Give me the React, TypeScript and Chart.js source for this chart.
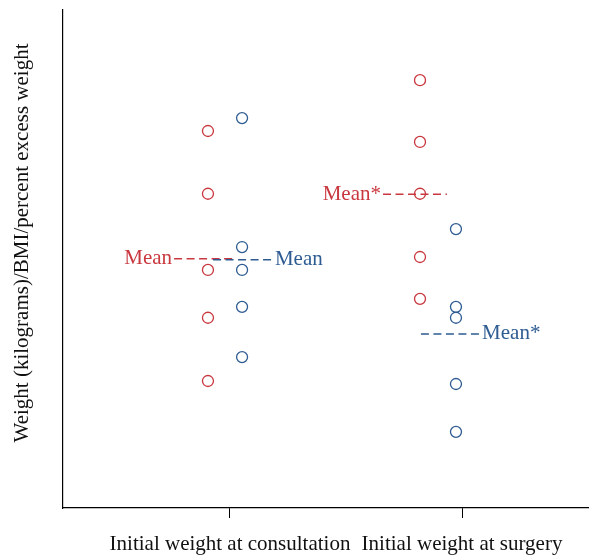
import React, { useEffect, useRef } from "react";
import { Chart, registerables } from "chart.js";

Chart.register(...registerables);

// ---- data (arbitrary units 0..100) ----
const categories = ["Initial weight at consultation", "Initial weight at surgery"];
const consultationRed = [75.7, 63.1, 47.8, 38.2, 25.5];
const consultationBlue = [78.3, 52.4, 47.8, 40.4, 30.3];
const surgeryRed = [85.9, 73.5, 63.1, 50.4, 42.0];
const surgeryBlue = [56.0, 40.4, 38.2, 24.9, 15.3];
const meanLabels = ["Mean", "Mean", "Mean*", "Mean*"];
const yTitle = "Weight (kilograms)/BMI/percent excess weight";

const RED = "#c9383f";
const BLUE = "#2e5c92";
const FONT = "'Liberation Serif', 'DejaVu Serif', serif";

const mean = (a: number[]) => a.reduce((s, v) => s + v, 0) / a.length;

// category positions (1, 2) with per-series horizontal offsets
const pointX = { c1Red: 0.905, c1Blue: 1.052, c2Red: 1.819, c2Blue: 1.974 };
const meanSpan = {
  c1Red: [0.759, 1.022],
  c1Blue: [0.927, 1.185],
  c2Red: [1.6595, 1.935],
  c2Blue: [1.823, 2.078],
};

const pts = (x: number, ys: number[]) => ys.map((y) => ({ x, y }));

const meanDefs = [
  { vals: consultationRed, span: meanSpan.c1Red, color: RED, label: meanLabels[0], side: "left" },
  { vals: consultationBlue, span: meanSpan.c1Blue, color: BLUE, label: meanLabels[1], side: "right" },
  { vals: surgeryRed, span: meanSpan.c2Red, color: RED, label: meanLabels[2], side: "left" },
  { vals: surgeryBlue, span: meanSpan.c2Blue, color: BLUE, label: meanLabels[3], side: "right" },
];

const meanLabelPlugin = {
  id: "meanLabels",
  afterDatasetsDraw(chart: any) {
    const { ctx, scales, chartArea } = chart;
    const xs = scales.x;
    const ys = scales.y;
    ctx.save();
    ctx.font = `21px ${FONT}`;
    ctx.textBaseline = "middle";
    meanDefs.forEach((m) => {
      const py = ys.getPixelForValue(mean(m.vals));
      ctx.fillStyle = m.color;
      if (m.side === "left") {
        ctx.textAlign = "right";
        ctx.fillText(m.label, xs.getPixelForValue(m.span[0]) - 2, py);
      } else {
        ctx.textAlign = "left";
        ctx.fillText(m.label, xs.getPixelForValue(m.span[1]) + 2, py);
      }
    });
    // y-axis title (slightly above the axis centre, as in the reference)
    const cy = (chartArea.top + chartArea.bottom) / 2 - 16;
    ctx.translate(chartArea.left - 41, cy);
    ctx.rotate(-Math.PI / 2);
    ctx.textAlign = "center";
    ctx.fillStyle = "#111";
    ctx.fillText(yTitle, 0, 0);
    ctx.restore();
  },
};

export default function App() {
  const ref = useRef<HTMLCanvasElement | null>(null);

  useEffect(() => {
    if (!ref.current) return;
    const pointDs = (label: string, data: any[], color: string) => ({
      type: "scatter" as const,
      label,
      data,
      showLine: false,
      pointRadius: 5.5,
      pointBorderWidth: 1.3,
      pointBackgroundColor: "rgba(0,0,0,0)",
      pointBorderColor: color,
      borderColor: color,
    });
    const lineDs = (m: any) => ({
      type: "line" as const,
      label: m.label,
      data: [
        { x: m.span[0], y: mean(m.vals) },
        { x: m.span[1], y: mean(m.vals) },
      ],
      borderColor: m.color,
      borderWidth: 1.5,
      borderDash: [8, 4.5],
      pointRadius: 0,
      fill: false,
    });

    const chart = new Chart(ref.current, {
      type: "scatter",
      data: {
        datasets: [
          lineDs(meanDefs[1]),
          lineDs(meanDefs[0]),
          lineDs(meanDefs[3]),
          lineDs(meanDefs[2]),
          pointDs("Consultation red", pts(pointX.c1Red, consultationRed), RED),
          pointDs("Consultation blue", pts(pointX.c1Blue, consultationBlue), BLUE),
          pointDs("Surgery red", pts(pointX.c2Red, surgeryRed), RED),
          pointDs("Surgery blue", pts(pointX.c2Blue, surgeryBlue), BLUE),
        ] as any,
      },
      plugins: [meanLabelPlugin],
      options: {
        animation: false,
        responsive: false,
        layout: { autoPadding: false, padding: { top: 10, right: 0, left: 0, bottom: 0 } },
        plugins: { legend: { display: false }, tooltip: { enabled: false } },
        scales: {
          x: {
            type: "linear",
            min: 0.2802,
            max: 2.5474,
            afterBuildTicks: (scale: any) => {
              scale.ticks = [{ value: 1 }, { value: 2 }];
            },
            afterFit: (scale: any) => {
              scale.height = 48;
              scale.paddingLeft = 0;
              scale.paddingRight = 0;
            },
            ticks: {
              autoSkip: false,
              maxRotation: 0,
              padding: 14,
              color: "#111",
              font: { family: FONT, size: 21 },
              callback: (v: any) => (v === 1 ? categories[0] : v === 2 ? categories[1] : ""),
            },
            grid: {
              display: true,
              drawOnChartArea: false,
              drawTicks: true,
              tickLength: 10,
              color: "#000",
              lineWidth: 1,
            },
            border: { display: true, color: "#000", width: 1.2 },
          },
          y: {
            type: "linear",
            min: 0,
            max: 100,
            afterFit: (scale: any) => {
              scale.width = 63;
              scale.paddingTop = 0;
              scale.paddingBottom = 0;
            },
            ticks: { display: false },
            grid: { display: false },
            border: { display: true, color: "#000", width: 1.2 },
            title: { display: false },
          },
        },
      },
    } as any);
    return () => chart.destroy();
  }, []);

  return (
    <div style={{ position: "absolute", left: 0, top: 0, width: 589, height: 556, background: "#fff" }}>
      <canvas ref={ref} width={589} height={556} style={{ display: "block" }} />
    </div>
  );
}
